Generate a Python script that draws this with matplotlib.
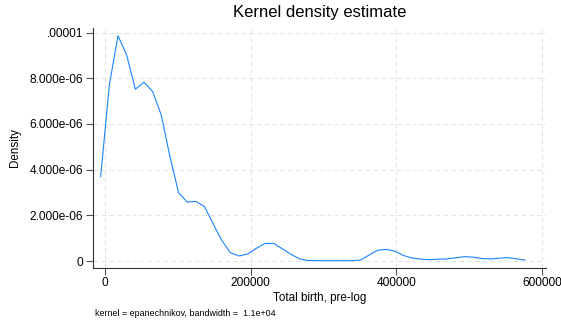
import matplotlib
matplotlib.use('Agg')
import matplotlib.pyplot as plt

plt.rcParams['font.family'] = ['Liberation Sans', 'DejaVu Sans']

# kdensity evaluation points
births = [-5900, 5990, 17880, 29770, 41660, 53550, 65440, 77330, 89220, 101110,
          113000, 124890, 136780, 148670, 160560, 172450, 184340, 196230, 208120, 220010,
          231900, 243790, 255680, 267570, 279460, 291350, 303240, 315130, 327020, 338910,
          350800, 362690, 374580, 386470, 398360, 410250, 422140, 434030, 445920, 457810,
          469700, 481590, 493480, 505370, 517260, 529150, 541040, 552930, 564820, 576710]
density = [3.69, 7.71, 9.86, 9.02, 7.52, 7.83, 7.42, 6.39, 4.57, 2.99,
           2.58, 2.61, 2.38, 1.62, 0.89, 0.36, 0.22, 0.31, 0.56, 0.77,
           0.77, 0.53, 0.29, 0.09, 0.02, 0.015, 0.015, 0.015, 0.015, 0.015,
           0.04, 0.26, 0.47, 0.51, 0.43, 0.24, 0.13, 0.08, 0.06, 0.08,
           0.09, 0.14, 0.19, 0.17, 0.11, 0.09, 0.12, 0.15, 0.10, 0.04]
density = [d * 1e-6 for d in density]

xticks = [0, 200000, 400000, 600000]
yticks = [0, 2e-6, 4e-6, 6e-6, 8e-6, 1e-5]
ylabels = ['0', '2.000e-06', '4.000e-06', '6.000e-06', '8.000e-06', '.00001']

fig = plt.figure(figsize=(5.61, 3.23), dpi=100)
ax = fig.add_axes([0.1652, 0.1712, 0.9733 - 0.1652, 0.9133 - 0.1712])

ax.plot(births, density, color='#1a85ff', lw=0.8)

ax.set_xlim(-16900, 605800)
ax.set_ylim(-2.93e-7, 1.02e-5)
ax.set_xticks(xticks)
ax.set_xticklabels([str(t) for t in xticks])
ax.set_yticks(yticks)
ax.set_yticklabels(ylabels)
ax.grid(True, color='#e3e3e3', ls=(0, (5, 3)), lw=0.7)
ax.set_axisbelow(True)

for s in ['top', 'right']:
    ax.spines[s].set_visible(False)
for s in ['left', 'bottom']:
    ax.spines[s].set_color('#333333')
    ax.spines[s].set_linewidth(0.8)
ax.tick_params(labelsize=8.6, length=5, width=0.8, color='#555555', pad=2)

ax.set_title('Kernel density estimate', fontsize=12, pad=8)
ax.set_xlabel('Total birth, pre-log', fontsize=8.4, labelpad=2)
ax.set_ylabel('Density', fontsize=8.4, labelpad=6)
fig.text(0.169, 0.022, 'kernel = epanechnikov, bandwidth =  1.1e+04', fontsize=6.4)

fig.savefig('out.png', dpi=100)
